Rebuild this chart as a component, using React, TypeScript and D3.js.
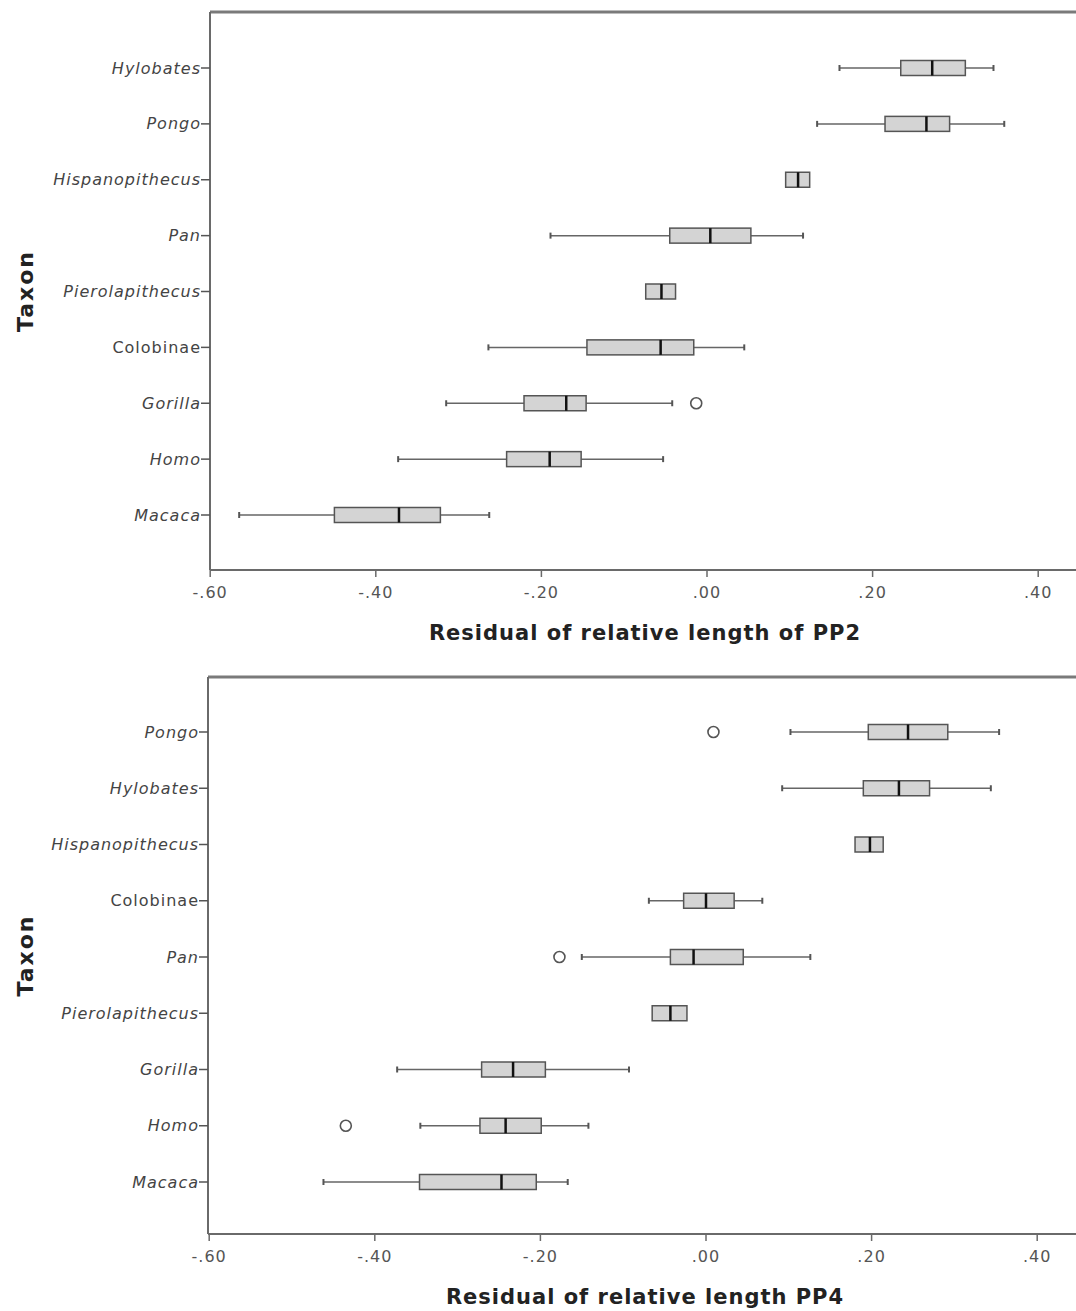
import React from "react";
import * as d3 from "d3";

// PP2 panel: taxa in display order (top to bottom) and box statistics
const taxaPP2 = ["Hylobates", "Pongo", "Hispanopithecus", "Pan", "Pierolapithecus", "Colobinae", "Gorilla", "Homo", "Macaca"];
const lowPP2 = [0.160, 0.133, 0.095, -0.189, -0.074, -0.264, -0.315, -0.373, -0.565];
const q1PP2 = [0.234, 0.215, 0.095, -0.045, -0.074, -0.145, -0.221, -0.242, -0.450];
const medPP2 = [0.272, 0.265, 0.110, 0.004, -0.055, -0.056, -0.170, -0.190, -0.372];
const q3PP2 = [0.312, 0.293, 0.124, 0.053, -0.038, -0.016, -0.146, -0.152, -0.322];
const highPP2 = [0.346, 0.359, 0.124, 0.116, -0.038, 0.045, -0.042, -0.053, -0.263];
const outlierTaxaPP2 = ["Gorilla"];
const outlierValuesPP2 = [-0.013];

// PP4 panel
const taxaPP4 = ["Pongo", "Hylobates", "Hispanopithecus", "Colobinae", "Pan", "Pierolapithecus", "Gorilla", "Homo", "Macaca"];
const lowPP4 = [0.102, 0.092, 0.180, -0.069, -0.150, -0.065, -0.373, -0.345, -0.462];
const q1PP4 = [0.196, 0.190, 0.180, -0.027, -0.043, -0.065, -0.271, -0.273, -0.346];
const medPP4 = [0.244, 0.233, 0.198, 0.000, -0.015, -0.043, -0.233, -0.242, -0.247];
const q3PP4 = [0.292, 0.270, 0.214, 0.034, 0.045, -0.023, -0.194, -0.199, -0.205];
const highPP4 = [0.354, 0.344, 0.214, 0.068, 0.126, -0.023, -0.093, -0.142, -0.167];
const outlierTaxaPP4 = ["Pongo", "Pan", "Homo"];
const outlierValuesPP4 = [0.009, -0.177, -0.435];

const xTicks = [-0.6, -0.4, -0.2, 0.0, 0.2, 0.4];
const nonItalic = ["Colobinae"];

const fmtTick = (v: number) => {
  const s = d3.format(".2f")(Math.abs(v)).replace(/^0/, "");
  return v < 0 ? "-" + s : s;
};

type PanelProps = {
  taxa: string[];
  low: number[];
  q1: number[];
  med: number[];
  q3: number[];
  high: number[];
  outTaxa: string[];
  outValues: number[];
  title: string;
  left: number;
  top: number;
  axisY: number;
  firstRow: number;
  lastRow: number;
  x0: number; // pixel position of .00
  titleY: number;
};

const font = "DejaVu Sans, sans-serif";

function BoxPanel(p: PanelProps) {
  const unit = 828;
  const x = d3.scaleLinear().domain([-0.6, 0.4]).range([p.x0 - 0.6 * unit, p.x0 + 0.4 * unit]);
  const y = d3.scalePoint<string>().domain(p.taxa).range([p.firstRow, p.lastRow]);
  const right = 1120;
  const boxH = 15;
  const capH = 6;
  const frame = "#6a6a6a";

  return (
    <g>
      {/* frame: top border, left axis, bottom axis */}
      <line x1={p.left} x2={right} y1={p.top} y2={p.top} stroke="#7a7a7a" strokeWidth={3} />
      <line x1={p.left} x2={p.left} y1={p.top} y2={p.axisY} stroke={frame} strokeWidth={2} />
      <line x1={p.left} x2={right} y1={p.axisY} y2={p.axisY} stroke={frame} strokeWidth={2} />

      {/* x ticks */}
      {xTicks.map((t) => (
        <g key={t}>
          <line x1={x(t)} x2={x(t)} y1={p.axisY} y2={p.axisY + 7} stroke={frame} strokeWidth={1.5} />
          <text
            x={x(t)}
            y={p.axisY + 28}
            textAnchor="middle"
            fontSize={16}
            letterSpacing={1}
            fill="#555"
            fontFamily={font}
          >
            {fmtTick(t)}
          </text>
        </g>
      ))}

      {/* y ticks and taxon labels */}
      {p.taxa.map((t) => (
        <g key={t}>
          <line x1={p.left - 9} x2={p.left} y1={y(t)} y2={y(t)} stroke="#555" strokeWidth={1.5} />
          <text
            x={p.left - 9}
            y={(y(t) as number) + 5.5}
            textAnchor="end"
            fontSize={16}
            letterSpacing={1}
            fontStyle={nonItalic.includes(t) ? "normal" : "italic"}
            fill="#444"
            fontFamily={font}
          >
            {t}
          </text>
        </g>
      ))}

      {/* boxes */}
      {p.taxa.map((t, i) => {
        const cy = y(t) as number;
        return (
          <g key={"b" + t}>
            <line x1={x(p.low[i])} x2={x(p.q1[i])} y1={cy} y2={cy} stroke="#666" strokeWidth={1.5} />
            <line x1={x(p.q3[i])} x2={x(p.high[i])} y1={cy} y2={cy} stroke="#666" strokeWidth={1.5} />
            {p.low[i] < p.q1[i] && (
              <line x1={x(p.low[i])} x2={x(p.low[i])} y1={cy - capH / 2} y2={cy + capH / 2} stroke="#555" strokeWidth={2} />
            )}
            {p.high[i] > p.q3[i] && (
              <line x1={x(p.high[i])} x2={x(p.high[i])} y1={cy - capH / 2} y2={cy + capH / 2} stroke="#555" strokeWidth={2} />
            )}
            <rect
              x={x(p.q1[i])}
              y={cy - boxH / 2}
              width={x(p.q3[i]) - x(p.q1[i])}
              height={boxH}
              fill="#d4d4d4"
              stroke="#555"
              strokeWidth={1.5}
            />
            <line x1={x(p.med[i])} x2={x(p.med[i])} y1={cy - boxH / 2} y2={cy + boxH / 2} stroke="#111" strokeWidth={2.5} />
          </g>
        );
      })}

      {/* outliers */}
      {p.outTaxa.map((t, i) => (
        <circle key={"o" + t} cx={x(p.outValues[i])} cy={y(t) as number} r={5.5} fill="#fff" stroke="#555" strokeWidth={1.6} />
      ))}

      {/* axis titles */}
      <text
        x={645}
        y={p.titleY}
        textAnchor="middle"
        fontSize={21}
        letterSpacing={1}
        fontWeight="bold"
        fill="#222"
        fontFamily={font}
      >
        {p.title}
      </text>
      <text
        transform={`translate(33, ${(p.top + p.axisY) / 2}) rotate(-90)`}
        textAnchor="middle"
        fontSize={22}
        letterSpacing={2}
        fontWeight="bold"
        fill="#222"
        fontFamily={font}
      >
        Taxon
      </text>
    </g>
  );
}

export default function App() {
  return (
    <svg
      width={1076}
      height={1311}
      style={{ position: "absolute", left: 0, top: 0, background: "#fff" }}
    >
      <rect width={1076} height={1311} fill="#fff" />
      <BoxPanel
        taxa={taxaPP2}
        low={lowPP2}
        q1={q1PP2}
        med={medPP2}
        q3={q3PP2}
        high={highPP2}
        outTaxa={outlierTaxaPP2}
        outValues={outlierValuesPP2}
        title="Residual of relative length of PP2"
        left={210}
        top={12}
        axisY={570}
        firstRow={68}
        lastRow={515}
        x0={707}
        titleY={640}
      />
      <BoxPanel
        taxa={taxaPP4}
        low={lowPP4}
        q1={q1PP4}
        med={medPP4}
        q3={q3PP4}
        high={highPP4}
        outTaxa={outlierTaxaPP4}
        outValues={outlierValuesPP4}
        title="Residual of relative length PP4"
        left={208}
        top={677}
        axisY={1234}
        firstRow={732}
        lastRow={1182}
        x0={706}
        titleY={1304}
      />
    </svg>
  );
}
